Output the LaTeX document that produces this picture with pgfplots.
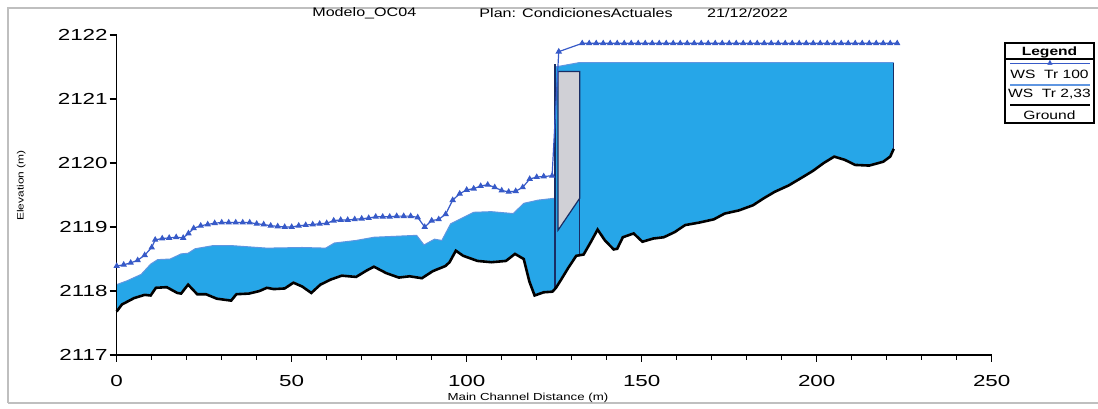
\documentclass[border=0pt]{standalone}
\usepackage{fontspec}
\setmainfont{Liberation Sans}[FakeStretch=1.3]
\newfontfamily\tickfont{Liberation Sans}[FakeStretch=1.4]
\newfontfamily\symfont{DejaVu Sans}
\usepackage{pgfplots}
\usepackage{pgfplotstable}
\pgfplotsset{compat=1.18}
\definecolor{water}{RGB}{38,166,232}
\definecolor{wsline}{RGB}{95,150,225}
\definecolor{wsh}{RGB}{55,90,200}
\definecolor{deck}{RGB}{208,208,214}
\definecolor{navy}{RGB}{25,45,100}

\pgfplotstableread{
d e
0 2117.68
1.5 2117.79
5 2117.89
8 2117.94
9.7 2117.93
11.2 2118.05
14.3 2118.06
17.3 2117.97
18.4 2117.96
20.4 2118.10
23 2117.95
25.5 2117.95
28.6 2117.88
32.7 2117.85
34.2 2117.95
37.8 2117.96
40.8 2118.00
42.9 2118.05
44.9 2118.03
48 2118.04
50.5 2118.13
53 2118.07
55.6 2117.97
58.2 2118.10
61.2 2118.18
64.3 2118.24
68.4 2118.22
71.4 2118.32
73.5 2118.38
77 2118.28
80.6 2118.21
83.7 2118.23
87.2 2118.20
90.3 2118.31
93.9 2118.39
95.1 2118.45
96.9 2118.63
99 2118.55
103.1 2118.47
107.1 2118.45
111.2 2118.47
113.8 2118.58
116.3 2118.50
117.9 2118.15
119.4 2117.93
122 2117.98
124.5 2117.99
125.5 2118.05
127 2118.18
129 2118.36
131.3 2118.55
133.4 2118.57
135.4 2118.76
137.4 2118.96
139.5 2118.79
142 2118.65
143 2118.66
144.6 2118.84
147.7 2118.90
150.2 2118.77
153.3 2118.82
156.3 2118.84
159.4 2118.92
162.4 2119.03
166.5 2119.07
170.6 2119.12
173.7 2119.21
177.8 2119.26
181.8 2119.34
184.9 2119.45
188 2119.55
192 2119.65
196 2119.78
199 2119.88
202 2120.00
205 2120.10
208 2120.05
211 2119.97
215 2119.96
219 2120.02
221 2120.10
222 2120.22
}\ground

\pgfplotstableread{
d e
0 2118.10
3 2118.16
7 2118.26
9.7 2118.42
11.7 2118.49
15.3 2118.50
18.4 2118.58
20.4 2118.59
22.4 2118.66
27.6 2118.71
32.7 2118.71
42.9 2118.67
53 2118.68
59.7 2118.67
62.2 2118.75
68.4 2118.79
73.5 2118.84
85.7 2118.87
87.8 2118.72
90.8 2118.81
92.9 2118.79
95.4 2119.05
98 2119.12
102 2119.23
107 2119.24
113.3 2119.21
116.3 2119.37
120.4 2119.42
125.2 2119.45
125.25 2121.50
132.3 2121.57
222 2121.57
}\wslow

\pgfplotstableread{
d e
0 2118.39
2 2118.41
4 2118.44
6 2118.48
8 2118.56
10 2118.68
11 2118.80
13 2118.82
15 2118.83
17 2118.84
19 2118.83
20.5 2118.90
22 2118.98
24 2119.02
26 2119.04
28 2119.06
30 2119.07
32 2119.07
34 2119.07
36 2119.07
38 2119.07
40 2119.05
42 2119.04
44 2119.02
46 2119.01
48 2119.00
50 2119.00
52 2119.02
54 2119.03
56 2119.04
58 2119.05
60 2119.06
62 2119.10
64 2119.11
66 2119.11
68 2119.12
70 2119.13
72 2119.14
74 2119.16
76 2119.16
78 2119.16
80 2119.17
82 2119.17
84 2119.17
86 2119.15
88 2119.00
90 2119.10
92 2119.12
94 2119.20
96 2119.42
98 2119.52
100 2119.58
102 2119.60
104 2119.64
106 2119.66
108 2119.62
110 2119.57
112 2119.55
114 2119.56
116 2119.62
118 2119.75
120 2119.78
122 2119.79
124.4 2119.80
126.3 2121.74
133 2121.87
135 2121.87
137 2121.87
139 2121.87
141 2121.87
143 2121.87
145 2121.87
147 2121.87
149 2121.87
151 2121.87
153 2121.87
155 2121.87
157 2121.87
159 2121.87
161 2121.87
163 2121.87
165 2121.87
167 2121.87
169 2121.87
171 2121.87
173 2121.87
175 2121.87
177 2121.87
179 2121.87
181 2121.87
183 2121.87
185 2121.87
187 2121.87
189 2121.87
191 2121.87
193 2121.87
195 2121.87
197 2121.87
199 2121.87
201 2121.87
203 2121.87
205 2121.87
207 2121.87
209 2121.87
211 2121.87
213 2121.87
215 2121.87
217 2121.87
219 2121.87
221 2121.87
223 2121.87
}\wshigh

\begin{document}
\begin{tikzpicture}
\useasboundingbox (0pt,0pt) rectangle (549pt,204pt);
\draw[gray!50, line width=0.6pt] (4pt,2.5pt) -- (4pt,200pt) -- (549pt,200pt);
\draw[gray!50, line width=0.6pt] (4pt,2.5pt) -- (549pt,2.5pt);
\begin{axis}[
  at={(58.35pt,26.5pt)}, anchor=south west,
  scale only axis, width=437.5pt, height=160pt,
  xmin=0, xmax=250, ymin=2117, ymax=2122,
  axis x line*=bottom, axis y line*=left,
  axis line style={-, line width=0.6pt},
  axis on top,
  xtick={0,50,...,250}, ytick={2117,2118,...,2122},
  minor x tick num=4, minor y tick num=4,
  tick align=outside, major tick length=3.5pt, minor tick length=2.5pt,
  tick style={line width=0.6pt, black},
  /pgf/number format/assume math mode=true,
  /pgf/number format/1000 sep={},
  ticklabel style={font=\tickfont\fontsize{8}{9}\selectfont},
  xticklabel style={yshift=-3pt},
  yticklabel style={xshift=2.5pt},
  xlabel={Main Channel Distance (m)},
  ylabel={Elevation (m)},
  xlabel style={at={(axis description cs:0.47,-0.134)}, anchor=center, font=\fontsize{5.1}{6}\selectfont},
  ylabel style={at={(axis description cs:-0.109,0.53)}, anchor=center, font=\fontsize{4.6}{5}\selectfont},
  clip=false,
]
\addplot[fill=water, draw=none, forget plot] table[x=d,y=e] {\wslow} \closedcycle;
\addplot[fill=white, draw=white, line width=1pt, forget plot] table[x=d,y=e] {\ground} \closedcycle;
\addplot[wsline, line width=0.5pt, forget plot] table[x=d,y=e] {\wslow};
\addplot[fill=deck, draw=navy, line width=0.6pt, forget plot] coordinates {(126.1,2121.43) (132.3,2121.43) (132.3,2119.45) (126.1,2118.95) (126.1,2121.43)};
\addplot[navy, line width=0.6pt, forget plot] coordinates {(125.2,2118.05) (125.2,2121.55)};
\addplot[navy, line width=0.6pt, forget plot] coordinates {(132.3,2121.43) (132.3,2118.56)};
\addplot[navy, line width=0.6pt, forget plot] coordinates {(222,2121.57) (222,2120.22)};
\addplot[wsh, line width=0.6pt, mark=triangle*, mark size=1.3pt, forget plot] table[x=d,y=e] {\wshigh};
\addplot[black, line width=1.3pt, forget plot] table[x=d,y=e] {\ground};
\node[font=\fontsize{6.2}{7}\selectfont] at (axis description cs:0.283,1.069) {Modelo\_OC04};
\node[font=\fontsize{6.2}{7}\selectfont] at (axis description cs:0.525,1.069) {Plan: CondicionesActuales};
\node[font=\fontsize{6.2}{7}\selectfont] at (axis description cs:0.721,1.069) {21/12/2022};
\end{axis}
\draw[black, line width=0.6pt] (502.5pt,142.5pt) rectangle (547pt,182.5pt);
\node[font=\bfseries\fontsize{6}{7}\selectfont] at (524.75pt,178pt) {Legend};
\draw[black, line width=0.6pt] (502.5pt,174.5pt) -- (547pt,174.5pt);
\draw[wsh, line width=0.5pt] (505pt,172pt) -- (545pt,172pt);
\node[wsh, font=\symfont\fontsize{3.5}{4}\selectfont, inner sep=0pt] at (525pt,172.6pt) {▲};
\node[font=\fontsize{6}{7}\selectfont] at (524.75pt,167pt) {WS\ \ Tr 100};
\draw[wsline, line width=0.6pt] (505pt,161.5pt) -- (545pt,161.5pt);
\node[font=\fontsize{6}{7}\selectfont] at (524.75pt,157pt) {WS\ \ Tr 2,33};
\draw[black, line width=1.2pt] (505pt,151.5pt) -- (545pt,151.5pt);
\node[font=\fontsize{6}{7}\selectfont] at (524.75pt,146.5pt) {Ground};
\end{tikzpicture}
\end{document}
